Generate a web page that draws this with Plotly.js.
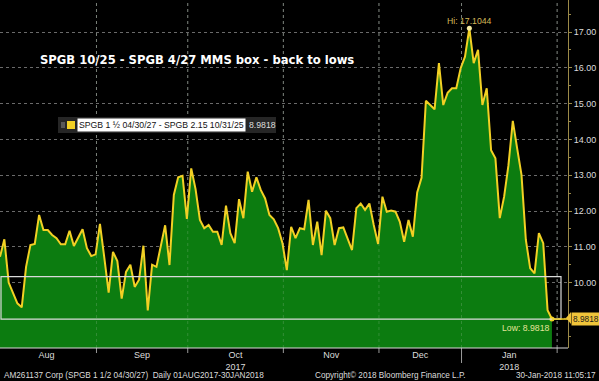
<!DOCTYPE html>
<html>
<head>
<meta charset="utf-8">
<script src="https://cdn.plot.ly/plotly-3.0.1.min.js"></script>
<style>
html,body{margin:0;padding:0;background:#000;}
#chart{width:599px;height:381px;}
</style>
</head>
<body>
<div id="chart"></div>
<script>
// ---- data (one value per trading day, 01-Aug-2017 .. 30-Jan-2018) ----
const spreadValues = [
  10.72, 11.21, 10.00, 9.70, 9.42, 9.31, 10.44, 11.05, 11.08, 11.89,
  11.47, 11.47, 11.33, 11.24, 11.07, 11.07, 11.45, 11.02, 11.24, 11.49,
  10.96, 10.74, 10.79, 11.64, 10.70, 9.72, 10.86, 10.60, 9.55, 10.30,
  10.50, 9.88, 10.08, 11.03, 9.22, 10.50, 10.44, 11.00, 11.60, 10.49,
  12.45, 12.94, 12.98, 11.78, 13.19, 12.61, 11.75, 11.52, 11.61, 11.42,
  11.42, 11.05, 12.15, 11.38, 11.10, 12.33, 11.80, 13.10, 12.54, 12.94,
  12.59, 12.35, 11.89, 11.77, 11.52, 11.10, 10.35, 11.56, 11.24, 11.52,
  11.49, 12.31, 11.05, 11.70, 10.77, 12.01, 11.80, 11.05, 11.52, 11.54,
  11.24, 10.91, 12.08, 12.21, 12.03, 12.21, 11.61, 11.08, 12.40, 11.98,
  12.01, 11.98, 11.70, 11.14, 11.75, 11.28, 12.52, 12.93, 15.08, 14.96,
  14.84, 16.13, 14.96, 15.30, 15.43, 15.43, 15.99, 16.31, 17.1044, 16.13,
  16.50, 14.96, 15.43, 13.70, 13.47, 11.80, 12.40, 13.28, 14.52, 13.75,
  13.01, 11.19, 10.40, 10.26, 11.38, 11.10, 9.23, 8.9818
];
const monthNames = ["Aug", "Sep", "Oct<br>2017", "Nov", "Dec", "Jan<br>2018"];
const monthTradingDays = [23, 21, 22, 22, 19, 22];
const yTickValues = [10, 11, 12, 13, 14, 15, 16, 17];
const hiValue = 17.1044;
const lowValue = 8.9818;
const boxTop = 10.165;
const seriesName = "SPGB 1 \u00BD 04/30/27 - SPGB 2.15 10/31/25";
const lastValueText = "8.9818";
const titleText = "SPGB 10/25 - SPGB 4/27 MMS box - back to lows";
const footerLeft = "AM261137 Corp (SPGB 1 1/2 04/30/27)  Daily 01AUG2017-30JAN2018";
const footerMid = "Copyright\u00A9 2018 Bloomberg Finance L.P.";
const footerRight = "30-Jan-2018 11:05:17";

// ---- derived ----
const xIdx = spreadValues.map((_, i) => i);
const boundaries = [];
let acc = 0;
monthTradingDays.forEach(d => { boundaries.push(acc - 0.8); acc += d; });
boundaries.push(acc - 0.8);
const labelPos = monthNames.map((_, i) => (boundaries[i] + boundaries[i + 1]) / 2);
const hiIdx = spreadValues.indexOf(hiValue);
const lastIdx = spreadValues.length - 1;

// pixel helpers for plot area (0..568 x, 0..348 y)
const PW = 568, PH = 348;
const px = v => v / PW;
const py = v => (PH - v) / PH;

const FONT = "Liberation Sans, Arial, sans-serif";
const TXT = "#dcdcdc";

const traces = [
  {
    x: xIdx, y: spreadValues, type: "scatter", mode: "lines",
    fill: "tozeroy", fillcolor: "#0c7c10",
    line: {color: "#f2d024", width: 2}, hoverinfo: "skip"
  },
  {
    x: [hiIdx], y: [hiValue], type: "scatter", mode: "markers",
    marker: {color: "#f6eaa0", size: 5}, hoverinfo: "skip"
  },
  {
    x: [lastIdx], y: [spreadValues[lastIdx]], type: "scatter", mode: "markers",
    marker: {color: "#f2d024", size: 5}, hoverinfo: "skip"
  }
];

const shapes = [];
// horizontal dotted gridline at 9.00 (label hidden behind the price tag)
shapes.push({type: "line", xref: "paper", yref: "y", x0: 0, x1: 1, y0: 9, y1: 9,
  line: {color: "#6a6a6a", width: 1, dash: "dot"}, layer: "below"});
// vertical dotted month gridlines
boundaries.slice(1).forEach(b => {
  shapes.push({type: "line", xref: "x", yref: "paper", x0: b, x1: b, y0: 0, y1: 1,
    line: {color: "#6a6a6a", width: 1, dash: "dot"}, layer: "below"});
  shapes.push({type: "line", xref: "x", yref: "paper", x0: b, x1: b, y0: 0, y1: 1,
    line: {color: "rgba(170,200,170,0.25)", width: 1, dash: "dot"}, layer: "above"});
  shapes.push({type: "line", xref: "x", yref: "paper", x0: b, x1: b, y0: 0, y1: py(353),
    line: {color: "#9a9a9a", width: 1}});
});
// year divider below axis
shapes.push({type: "line", xref: "x", yref: "paper", x0: boundaries[5], x1: boundaries[5],
  y0: py(351), y1: py(363), line: {color: "#9a9a9a", width: 1}});
// white box around the low region
shapes.push({type: "rect", xref: "paper", yref: "y", x0: px(1), x1: px(561),
  y0: lowValue, y1: boxTop, line: {color: "#dadada", width: 1.2}, layer: "above"});
// yellow connector from last point to price tag
shapes.push({type: "line", xref: "x", yref: "y", x0: lastIdx, x1: 130.7,
  y0: lowValue, y1: lowValue, line: {color: "#f2d024", width: 1.5}});
// price tag pointer
shapes.push({type: "path", xref: "paper", yref: "paper",
  path: `M ${px(566)} ${py(318)} L ${px(571)} ${py(312)} L ${px(571)} ${py(324)} Z`,
  fillcolor: "#f0c43a", line: {width: 0}});
// bottom axis line
shapes.push({type: "line", xref: "paper", yref: "paper", x0: 0, x1: 1, y0: 0, y1: 0,
  line: {color: "#d8d8d8", width: 1.2}});
// legend background
shapes.push({type: "rect", xref: "paper", yref: "paper", x0: px(58), x1: px(276),
  y0: py(133), y1: py(117), fillcolor: "#262626", line: {width: 0}});
shapes.push({type: "rect", xref: "paper", yref: "paper", x0: px(67), x1: px(75),
  y0: py(129), y1: py(121), fillcolor: "#f2d024", line: {width: 0}});
for (let k = 0; k < 3; k++) {
  shapes.push({type: "line", xref: "paper", yref: "paper", x0: px(61), x1: px(65),
    y0: py(123 + k * 2), y1: py(123 + k * 2), line: {color: "#8a8a8a", width: 1}});
}

const annotations = [
  {text: seriesName, xref: "paper", yref: "paper", x: px(77), y: py(125),
   xanchor: "left", yanchor: "middle", showarrow: false, bgcolor: "#ffffff",
   borderpad: 1, font: {family: FONT, size: 8.7, color: "#111"}},
  {text: lastValueText, xref: "paper", yref: "paper", x: px(247), y: py(125),
   xanchor: "left", yanchor: "middle", showarrow: false,
   font: {family: FONT, size: 8.7, color: TXT}},
  {text: "Hi: " + hiValue.toFixed(4), xref: "x", yref: "y", x: hiIdx, y: hiValue,
   xanchor: "center", yanchor: "bottom", yshift: 0, showarrow: false,
   font: {family: FONT, size: 8.7, color: "#d4b858"}},
  {text: "Low: " + lowValue.toFixed(4), xref: "x", yref: "y", x: lastIdx, y: lowValue,
   xanchor: "right", yanchor: "top", yshift: -2, showarrow: false,
   font: {family: FONT, size: 8.7, color: "#e4e49a"}},
  {text: lastValueText, xref: "paper", yref: "y", x: px(571), y: lowValue,
   xanchor: "left", yanchor: "middle", showarrow: false, bgcolor: "#f0c43a",
   borderpad: 1, font: {family: FONT, size: 8.3, color: "#1a1a1a"}},
  {text: footerLeft, xref: "paper", yref: "paper", x: px(2), y: py(375),
   xanchor: "left", yanchor: "middle", showarrow: false,
   font: {family: FONT, size: 8.2, color: TXT}},
  {text: footerMid, xref: "paper", yref: "paper", x: px(313), y: py(375),
   xanchor: "left", yanchor: "middle", showarrow: false,
   font: {family: FONT, size: 8.2, color: TXT}},
  {text: footerRight, xref: "paper", yref: "paper", x: px(598), y: py(375),
   xanchor: "right", yanchor: "middle", showarrow: false,
   font: {family: FONT, size: 8.2, color: TXT}}
];

const layout = {
  width: 599, height: 381,
  paper_bgcolor: "#000", plot_bgcolor: "#000",
  margin: {l: 0, r: 31, t: 0, b: 33, pad: 0},
  showlegend: false,
  title: {text: titleText, xref: "container", yref: "container",
    x: 40 / 599, xanchor: "left", y: 1 - 60 / 381, yanchor: "middle",
    font: {family: "DejaVu Sans, sans-serif", size: 11.6, color: "#ffffff", weight: "bold"}},
  xaxis: {
    range: [0, 130.7], showgrid: false, zeroline: false, showline: false,
    tickmode: "array", tickvals: labelPos, ticktext: monthNames,
    ticks: "", ticklen: 0,
    tickfont: {family: FONT, size: 9, color: TXT},
    fixedrange: true
  },
  yaxis: {
    side: "right", range: [8.173, 17.894],
    tickmode: "array", tickvals: yTickValues, ticktext: yTickValues.map(v => v.toFixed(2)),
    showgrid: true, gridcolor: "#6a6a6a", griddash: "dot", gridwidth: 1,
    zeroline: false, showline: true, linecolor: "#9c8a48", linewidth: 1,
    ticks: "outside", ticklen: 3, tickcolor: "#9c8a48",
    minor: {dtick: 0.5, tick0: 0, ticks: "outside", ticklen: 2, tickcolor: "#9c8a48", showgrid: false},
    tickfont: {family: FONT, size: 9, color: TXT},
    fixedrange: true
  },
  shapes: shapes,
  annotations: annotations
};

Plotly.newPlot("chart", traces, layout, {staticPlot: true, displayModeBar: false});
</script>
</body>
</html>
